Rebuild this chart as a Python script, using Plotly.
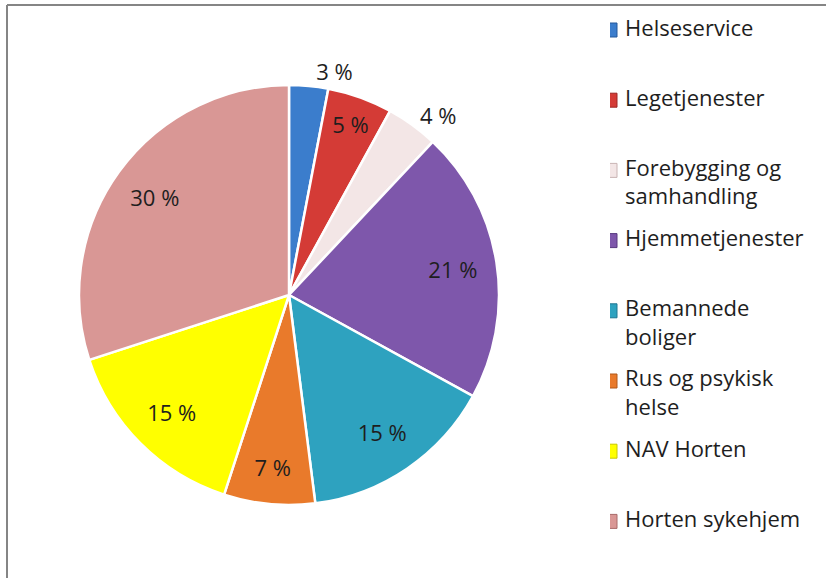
import plotly.graph_objects as go

# data
labels = ["Helseservice", "Legetjenester", "Forebygging og samhandling", "Hjemmetjenester",
          "Bemannede boliger", "Rus og psykisk helse", "NAV Horten", "Horten sykehjem"]
legend_lines = ["Helseservice", "Legetjenester", " <br>Forebygging og<br>samhandling", "Hjemmetjenester",
                " <br>Bemannede<br>boliger", " <br>Rus og psykisk<br>helse", "NAV Horten", "Horten sykehjem"]
shares = [3, 5, 4, 21, 15, 7, 15, 30]
colors = ["#3b7dcc", "#d43b36", "#f3e6e6", "#7e57ab", "#2ea2bf", "#e97a2b", "#ffff00", "#d99795"]
edge_colors = ["#25599a", "#9c2724", "#c9b4b4", "#58397f", "#1f7690", "#b0581b", "#c8c800", "#a86a69"]
text_pos = ["outside", "inside", "outside", "inside", "inside", "inside", "inside", "inside"]

FONT = "Open Sans, Lato, sans-serif"
pie_domain = dict(x=[79 / 826, 499 / 826], y=[73 / 578, 493 / 578])

fig = go.Figure()

# the slices
fig.add_trace(go.Pie(
    labels=labels, values=shares, sort=False, direction="clockwise", rotation=0,
    marker=dict(colors=colors, line=dict(color="white", width=2.5)),
    textinfo="none", domain=pie_domain, showlegend=False,
    hoverinfo="label+percent",
))

# transparent ring on top, only to push the labels outwards like Excel does
fig.add_trace(go.Pie(
    labels=labels, values=shares, sort=False, direction="clockwise", rotation=0,
    hole=0.58,
    marker=dict(colors=["rgba(0,0,0,0)"] * len(shares), line=dict(width=0)),
    text=[f"{v} %" for v in shares], textinfo="text", textposition=text_pos,
    insidetextorientation="horizontal",
    textfont=dict(family=FONT, size=22, color="#1e1e1e"),
    domain=pie_domain, showlegend=False, hoverinfo="skip",
))

# legend drawn as a small scatter: squares, then the names next to them
fig.add_trace(go.Scatter(
    x=[0] * len(labels), y=list(range(len(labels))), mode="markers",
    marker=dict(symbol="square", size=14, color=colors, line=dict(color=edge_colors, width=1)),
    showlegend=False, hoverinfo="skip",
))
fig.add_trace(go.Scatter(
    x=[0.07] * len(labels), y=list(range(len(labels))), mode="text",
    text=legend_lines, textposition="middle right",
    textfont=dict(family=FONT, size=22, color="#1e1e1e"),
    showlegend=False, hoverinfo="skip",
))

fig.update_layout(
    width=826, height=578,
    margin=dict(l=0, r=0, t=0, b=0),
    paper_bgcolor="white", plot_bgcolor="rgba(0,0,0,0)",
    font=dict(family=FONT, size=22, color="#1e1e1e"),
    xaxis=dict(domain=[610 / 826, 1], range=[0, 1], visible=False, fixedrange=True),
    yaxis=dict(domain=[0, 1], range=[(578 - 30) / 70.2, -30 / 70.2], visible=False, fixedrange=True),
    shapes=[
        dict(type="line", xref="paper", yref="paper", x0=7 / 826, x1=1, y0=1 - 5 / 578, y1=1 - 5 / 578,
             line=dict(color="#858585", width=2)),
        dict(type="line", xref="paper", yref="paper", x0=7 / 826, x1=7 / 826, y0=0, y1=1 - 5 / 578,
             line=dict(color="#858585", width=2)),
    ],
)

fig.write_html("out.html", config={"displayModeBar": False},
               post_script="document.body.style.margin='0';")
